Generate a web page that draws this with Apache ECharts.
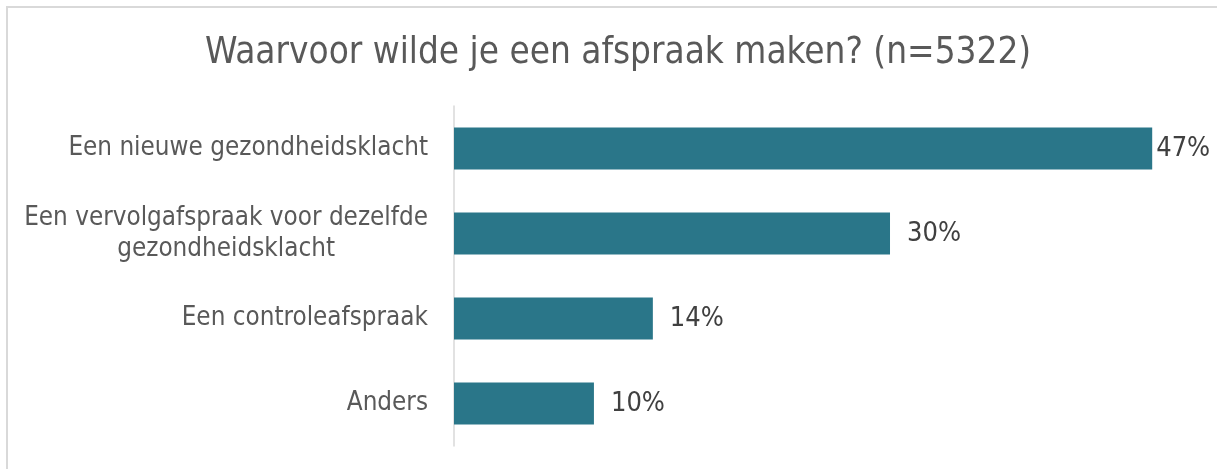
<!DOCTYPE html>
<html>
<head>
<meta charset="utf-8">
<script src="https://cdn.jsdelivr.net/npm/echarts@6/dist/echarts.min.js"></script>
<style>
html,body{margin:0;padding:0;background:#fff;}
#chart{width:1217px;height:469px;}
</style>
</head>
<body>
<div id="chart"></div>
<script>
var titleText = 'Waarvoor wilde je een afspraak maken? (n=5322)';
var categories = [
  'Een nieuwe gezondheidsklacht',
  'Een vervolgafspraak voor dezelfde\ngezondheidsklacht',
  'Een controleafspraak',
  'Anders'
];
var values = [47.4, 29.6, 13.5, 9.5];

var FONT = "'DejaVu Sans Condensed', 'DejaVu Sans', sans-serif";
var chart = echarts.init(document.getElementById('chart'), null, {renderer: 'canvas'});

var seriesData = values.map(function (v, i) {
  var item = {value: v};
  if (i === 0) item.label = {distance: 4};
  return item;
});

chart.setOption({
  backgroundColor: '#ffffff',
  animation: false,
  title: {
    text: titleText,
    left: 200,
    top: 30,
    textStyle: {fontFamily: FONT, fontSize: 36.6, fontWeight: 'normal', color: '#595959'}
  },
  graphic: [{
    type: 'rect',
    shape: {x: 7, y: 7, width: 2000, height: 2000},
    style: {fill: 'none', stroke: '#d9d9d9', lineWidth: 2},
    silent: true
  }],
  grid: {left: 454, top: 106, width: 736.5, height: 340},
  xAxis: {
    type: 'value', min: 0, max: 50,
    show: false
  },
  yAxis: {
    type: 'category',
    data: categories,
    inverse: true,
    axisLine: {show: true, lineStyle: {color: '#d9d9d9', width: 1.5}},
    axisTick: {show: false},
    splitLine: {show: false},
    axisLabel: {
      margin: 26,
      align: 'right',
      color: '#595959',
      fontFamily: FONT,
      fontSize: 25.8,
      lineHeight: 31,
      formatter: function (val) {
        return val.split('\n').map(function (l) { return '{c|' + l + '}'; }).join('\n');
      },
      rich: {
        c: {align: 'center', fontFamily: FONT, fontSize: 25.8, lineHeight: 31, color: '#595959'}
      }
    }
  },
  series: [{
    type: 'bar',
    data: seriesData,
    barWidth: 42,
    itemStyle: {color: '#2a7689'},
    label: {
      show: true,
      position: 'right',
      distance: 17,
      color: '#404040',
      fontFamily: FONT,
      fontSize: 27,
      formatter: function (p) { return Math.round(p.value) + '%'; }
    }
  }]
});
</script>
</body>
</html>
